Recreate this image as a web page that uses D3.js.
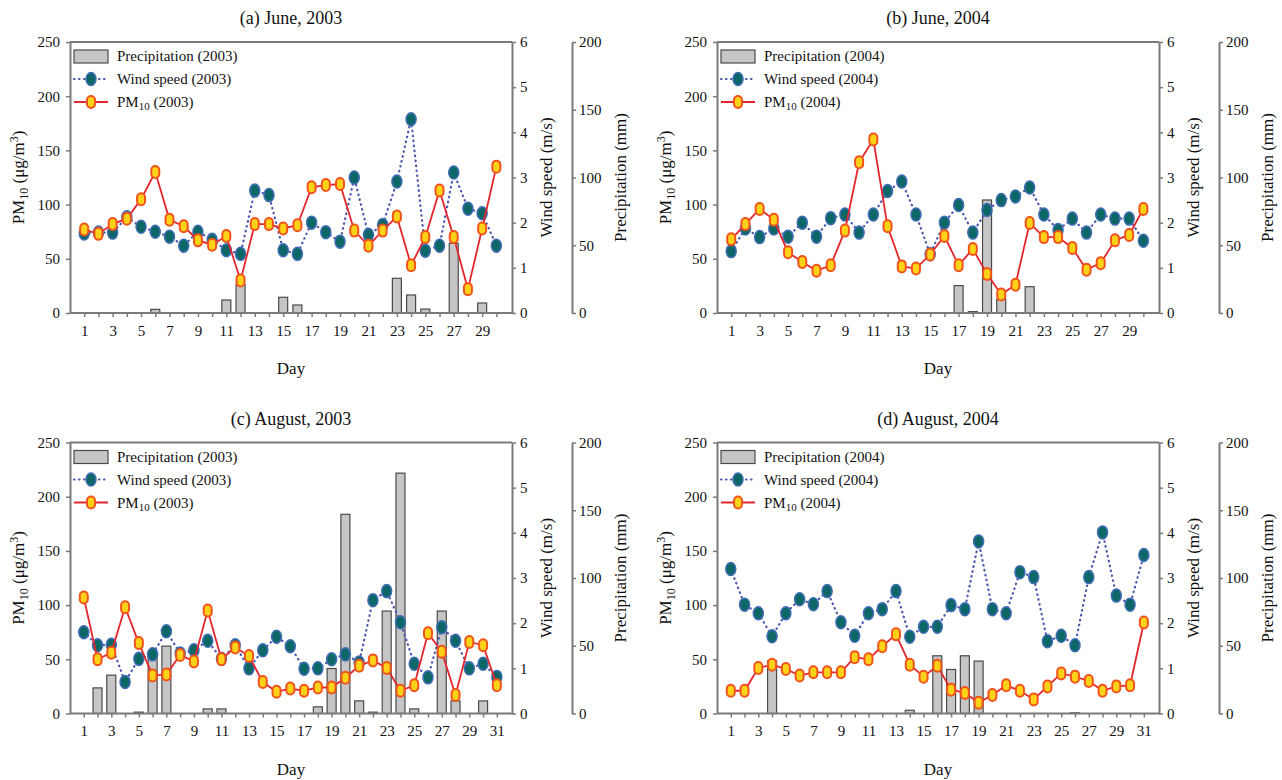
<!DOCTYPE html>
<html>
<head>
<meta charset="utf-8">
<script src="https://cdn.jsdelivr.net/npm/d3@7"></script>
<style>
  body { margin: 0; background: #fff; }
  text { font-family: "Liberation Serif", "Times New Roman", serif; fill: #111; }
</style>
</head>
<body>
<svg id="chart" width="1282" height="780"></svg>
<script>
// days on the x axis
var juneDays = [1,2,3,4,5,6,7,8,9,10,11,12,13,14,15,16,17,18,19,20,21,22,23,24,25,26,27,28,29,30];
var augDays = [1,2,3,4,5,6,7,8,9,10,11,12,13,14,15,16,17,18,19,20,21,22,23,24,25,26,27,28,29,30,31];

// tick values
var pmTicks = [0, 50, 100, 150, 200, 250];
var windTicks = [0, 1, 2, 3, 4, 5, 6];
var precipTicks = [0, 50, 100, 150, 200];

// (a) June 2003
var pmJun2003 = [77,73,82,87,105,130,86,80,67,63,71,30,82,82,78,81,116,118,119,76,62,76,89,44,70,113,70,22,78,135];
var windJun2003 = [1.76,1.78,1.78,2.12,1.91,1.80,1.69,1.49,1.80,1.62,1.39,1.31,2.71,2.61,1.39,1.31,2.0,1.79,1.58,3.0,1.73,1.95,2.91,4.29,1.38,1.49,3.11,2.31,2.21,1.49];
var precipJun2003 = [0,0,0,0,0,2.7,0,0,0,0,9.6,21,0,0,11.6,5.9,0,0,0,0,0,0,25.6,13.3,2.9,0,51.4,0,7.4,0];

// (b) June 2004
var pmJun2004 = [68,82,96,86,56,47,39,44,76,139,160,80,43,41,54,71,44,59,36,17,26,83,70,70,60,40,46,67,72,96];
var windJun2004 = [1.37,1.87,1.68,1.87,1.69,2.0,1.69,2.10,2.18,1.78,2.18,2.70,2.91,2.18,1.30,2.0,2.39,1.78,2.28,2.50,2.58,2.78,2.18,1.84,2.09,1.78,2.18,2.09,2.09,1.60];
var precipJun2004 = [0,0,0,0,0,0,0,0,0,0,0,0,0,0,0,0,20.2,1,83.4,10.3,0,19.4,0,0,0,0,0,0,0,0];

// (c) August 2003
var pmAug2003 = [107,50,56,98,65,35,36,54,48,95,50,61,53,29,20,23,21,24,24,33,44,49,42,21,26,74,57,17,66,63,26];
var windAug2003 = [1.80,1.51,1.52,0.70,1.21,1.31,1.82,1.33,1.40,1.61,1.21,1.51,1.0,1.40,1.70,1.49,0.99,1.0,1.20,1.31,1.13,2.51,2.71,2.02,1.10,0.80,1.91,1.61,1.0,1.10,0.81];
var precipAug2003 = [0,18.9,28.3,0,1,42,49.7,0,0,3.4,3.4,0,0,0,0,0,0,4.9,33.2,147,9.3,1,75.6,177.4,3.4,0,75.6,9.3,0,9.3,0];

// (d) August 2004
var pmAug2004 = [21,21,42,45,41,35,38,38,38,52,50,62,73,45,34,44,22,19,10,17,26,21,13,25,37,34,30,21,25,26,84];
var windAug2004 = [3.20,2.41,2.22,1.71,2.22,2.53,2.42,2.71,2.02,1.72,2.22,2.31,2.71,1.70,1.92,1.92,2.40,2.31,3.81,2.31,2.22,3.13,3.02,1.60,1.72,1.51,3.02,4.01,2.61,2.41,3.51];
var precipAug2004 = [0,0,0,38.9,0,0,0,0,0,0,0,0,0,2.4,0,42.6,32.5,42.6,38.7,0,0,0,0,0,0,0.5,0,0,0,0,0];

var panels = [
  {title: "(a) June, 2003", year: "2003", days: juneDays, pm: pmJun2003, wind: windJun2003, precip: precipJun2003, ox: 0, oy: 0},
  {title: "(b) June, 2004", year: "2004", days: juneDays, pm: pmJun2004, wind: windJun2004, precip: precipJun2004, ox: 647, oy: 0},
  {title: "(c) August, 2003", year: "2003", days: augDays, pm: pmAug2003, wind: windAug2003, precip: precipAug2003, ox: 0, oy: 400.5},
  {title: "(d) August, 2004", year: "2004", days: augDays, pm: pmAug2004, wind: windAug2004, precip: precipAug2004, ox: 647, oy: 400.5}
];

var plotLeft = 70, plotRight = 512, plotTop = 42, plotBottom = 313, precipAxisX = 572;
var axisColor = "#7a7a7a";
var pmColor = "#e3262b";
var windColor = "#4b55ad";

var svg = d3.select("#chart");

function styleAxis(g) {
  g.attr("font-family", null);
  g.select(".domain").attr("stroke", axisColor).attr("stroke-width", 2);
  g.selectAll(".tick line").attr("stroke", axisColor).attr("stroke-width", 1.5);
  g.selectAll(".tick text").attr("font-size", 15).attr("fill", "#111");
}

function pmMarker(sel) {
  sel.append("rect")
    .attr("x", -4).attr("y", -6)
    .attr("width", 8).attr("height", 12)
    .attr("rx", 4).attr("ry", 4)
    .attr("fill", "#ffd21a")
    .attr("stroke", "#f2541b")
    .attr("stroke-width", 2);
}

function windMarker(sel) {
  sel.append("ellipse")
    .attr("rx", 5).attr("ry", 6.5)
    .attr("fill", "#0e6767")
    .attr("stroke", "#3f6db4")
    .attr("stroke-width", 1.5);
}

panels.forEach(function(p) {
  var g = svg.append("g").attr("transform", `translate(${p.ox}, ${p.oy})`);
  var n = p.days.length;

  var x = d3.scaleLinear().domain([0, n + 1.1]).range([plotLeft, plotRight]);
  var yPm = d3.scaleLinear().domain([0, 250]).range([plotBottom, plotTop]);
  var yWind = d3.scaleLinear().domain([0, 6]).range([plotBottom, plotTop]);
  var yPrecip = d3.scaleLinear().domain([0, 200]).range([plotBottom, plotTop]);

  // frame top line
  g.append("line")
    .attr("x1", plotLeft).attr("x2", plotRight)
    .attr("y1", plotTop).attr("y2", plotTop)
    .attr("stroke", axisColor).attr("stroke-width", 2);

  var rows = p.days.map(function(d, i) {
    return {day: d, pm: p.pm[i], wind: p.wind[i], precip: p.precip[i]};
  });

  // precipitation bars
  g.selectAll("rect.bar")
    .data(rows.filter(d => d.precip > 0))
    .enter().append("rect")
    .attr("class", "bar")
    .attr("x", d => x(d.day) - 4.5)
    .attr("width", 9)
    .attr("y", d => yPrecip(d.precip))
    .attr("height", d => plotBottom - yPrecip(d.precip))
    .attr("fill", "#c6c6c6")
    .attr("stroke", "#4a4a4a")
    .attr("stroke-width", 1.2);

  // axes
  var leftAxis = g.append("g")
    .attr("transform", `translate(${plotLeft}, 0)`)
    .call(d3.axisLeft(yPm).tickValues(pmTicks).tickSize(4).tickSizeOuter(0).tickPadding(6));
  styleAxis(leftAxis);

  var windAxis = g.append("g")
    .attr("transform", `translate(${plotRight}, 0)`)
    .call(d3.axisRight(yWind).tickValues(windTicks).tickFormat(d3.format("d"))
      .tickSize(4).tickSizeOuter(0).tickPadding(4));
  styleAxis(windAxis);

  var precipAxis = g.append("g")
    .attr("transform", `translate(${precipAxisX}, 0)`)
    .call(d3.axisRight(yPrecip).tickValues(precipTicks).tickSize(4).tickSizeOuter(0).tickPadding(3));
  styleAxis(precipAxis);

  var bottomAxis = g.append("g")
    .attr("transform", `translate(0, ${plotBottom})`)
    .call(d3.axisBottom(x).tickValues(p.days).tickSize(4).tickSizeOuter(0).tickPadding(8)
      .tickFormat(d => d % 2 === 1 ? d : ""));
  styleAxis(bottomAxis);
  bottomAxis.select(".domain").attr("d", `M${plotLeft},0H${plotRight}`);

  // wind speed dotted line + markers
  g.append("path")
    .datum(rows)
    .attr("fill", "none")
    .attr("stroke", windColor)
    .attr("stroke-width", 2.2)
    .attr("stroke-linecap", "round")
    .attr("stroke-dasharray", "0.5,4.5")
    .attr("d", d3.line().x(d => x(d.day)).y(d => yWind(d.wind)));

  g.selectAll("g.wind")
    .data(rows)
    .enter().append("g")
    .attr("class", "wind")
    .attr("transform", d => `translate(${x(d.day)}, ${yWind(d.wind)})`)
    .call(windMarker);

  // PM10 line + markers
  g.append("path")
    .datum(rows)
    .attr("fill", "none")
    .attr("stroke", pmColor)
    .attr("stroke-width", 1.8)
    .attr("d", d3.line().x(d => x(d.day)).y(d => yPm(d.pm)));

  g.selectAll("g.pm")
    .data(rows)
    .enter().append("g")
    .attr("class", "pm")
    .attr("transform", d => `translate(${x(d.day)}, ${yPm(d.pm)})`)
    .call(pmMarker);

  // title
  g.append("text")
    .attr("x", (plotLeft + plotRight) / 2).attr("y", 24)
    .attr("text-anchor", "middle")
    .attr("font-size", 18)
    .text(p.title);

  // x label
  g.append("text")
    .attr("x", (plotLeft + plotRight) / 2).attr("y", 374)
    .attr("text-anchor", "middle")
    .attr("font-size", 17)
    .text("Day");

  var midY = (plotTop + plotBottom) / 2;

  // left y label
  var pmLabel = g.append("text")
    .attr("transform", `translate(24, ${midY}) rotate(-90)`)
    .attr("text-anchor", "middle")
    .attr("font-size", 17);
  pmLabel.append("tspan").text("PM");
  pmLabel.append("tspan").attr("dy", 4).attr("font-size", 12).text("10");
  pmLabel.append("tspan").attr("dy", -4).text(" (\u03bcg/m");
  pmLabel.append("tspan").attr("dy", -6).attr("font-size", 12).text("3");
  pmLabel.append("tspan").attr("dy", 6).text(")");

  g.append("text")
    .attr("transform", `translate(552, ${midY}) rotate(-90)`)
    .attr("text-anchor", "middle")
    .attr("font-size", 17)
    .text("Wind speed (m/s)");

  g.append("text")
    .attr("transform", `translate(626, ${midY}) rotate(-90)`)
    .attr("text-anchor", "middle")
    .attr("font-size", 17)
    .text("Precipitation (mm)");

  // legend
  var lg = g.append("g").attr("transform", "translate(74, 0)");
  lg.append("rect")
    .attr("x", 0).attr("y", 50).attr("width", 34).attr("height", 13)
    .attr("fill", "#c6c6c6").attr("stroke", "#4a4a4a").attr("stroke-width", 1.2);
  lg.append("text").attr("x", 43).attr("y", 61).attr("font-size", 15)
    .text("Precipitation (" + p.year + ")");

  lg.append("line")
    .attr("x1", 0).attr("x2", 34).attr("y1", 79).attr("y2", 79)
    .attr("stroke", windColor).attr("stroke-width", 2.2)
    .attr("stroke-linecap", "round").attr("stroke-dasharray", "0.5,4.5");
  lg.append("g").attr("transform", "translate(17, 79)").call(windMarker);
  lg.append("text").attr("x", 43).attr("y", 84).attr("font-size", 15)
    .text("Wind speed (" + p.year + ")");

  lg.append("line")
    .attr("x1", 0).attr("x2", 34).attr("y1", 102).attr("y2", 102)
    .attr("stroke", pmColor).attr("stroke-width", 1.8);
  lg.append("g").attr("transform", "translate(17, 102)").call(pmMarker);
  var pmLeg = lg.append("text").attr("x", 43).attr("y", 107).attr("font-size", 15);
  pmLeg.append("tspan").text("PM");
  pmLeg.append("tspan").attr("dy", 3).attr("font-size", 11).text("10");
  pmLeg.append("tspan").attr("dy", -3).text(" (" + p.year + ")");
});
</script>
</body>
</html>
